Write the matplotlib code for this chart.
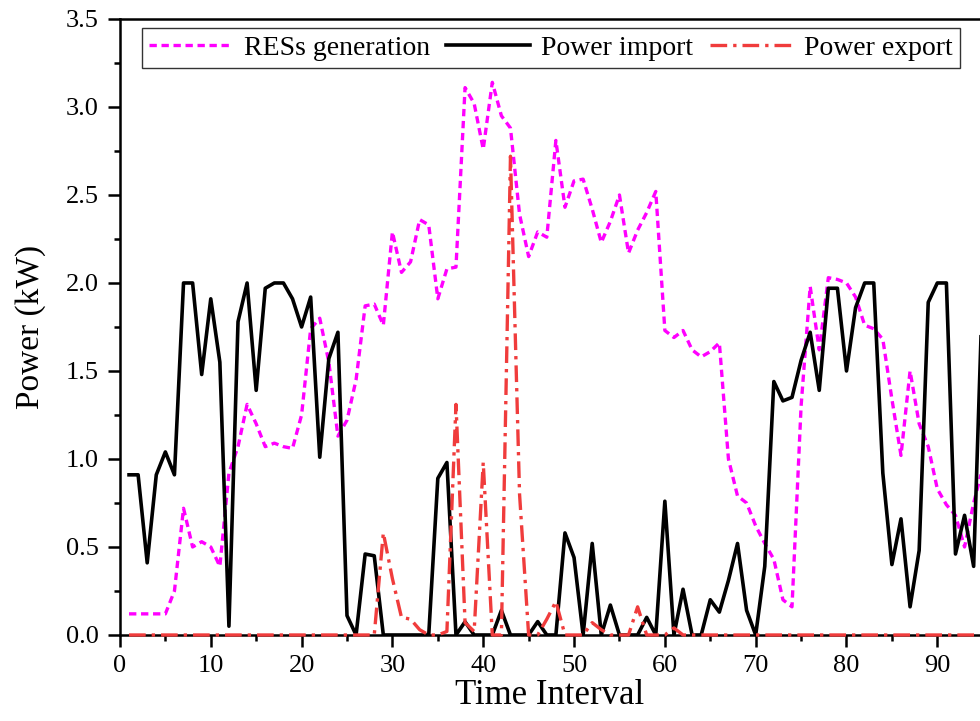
import numpy as np
import matplotlib
matplotlib.use("Agg")
import matplotlib.pyplot as plt
from matplotlib.ticker import MultipleLocator

plt.rcParams['font.family'] = ['Liberation Serif', 'DejaVu Serif']

# time intervals 1..95
t = np.arange(1, 96)

res_gen = [0.12, 0.12, 0.12, 0.12, 0.12, 0.25, 0.72, 0.50, 0.53, 0.50,
           0.39, 0.92, 1.07, 1.31, 1.20, 1.07, 1.09, 1.07, 1.06, 1.25,
           1.74, 1.80, 1.55, 1.13, 1.22, 1.45, 1.87, 1.88, 1.76, 2.29,
           2.06, 2.12, 2.36, 2.33, 1.91, 2.08, 2.09, 3.11, 3.02, 2.76,
           3.14, 2.95, 2.88, 2.39, 2.15, 2.29, 2.26, 2.81, 2.43, 2.58,
           2.59, 2.42, 2.23, 2.35, 2.50, 2.17, 2.30, 2.40, 2.52, 1.73,
           1.69, 1.73, 1.62, 1.58, 1.61, 1.66, 1.00, 0.79, 0.75, 0.62,
           0.52, 0.43, 0.20, 0.16, 1.30, 1.98, 1.62, 2.03, 2.02, 2.00,
           1.92, 1.76, 1.74, 1.68, 1.34, 1.02, 1.50, 1.20, 1.07, 0.83,
           0.74, 0.68, 0.50, 0.75, 0.95]

power_import = [0.91, 0.91, 0.41, 0.91, 1.04, 0.91, 2.00, 2.00, 1.48, 1.91,
                1.55, 0.05, 1.78, 2.00, 1.39, 1.97, 2.00, 2.00, 1.91, 1.75,
                1.92, 1.01, 1.57, 1.72, 0.11, 0.00, 0.46, 0.45, 0.00, 0.00,
                0.00, 0.00, 0.00, 0.00, 0.89, 0.98, 0.00, 0.075, 0.00, 0.00,
                0.00, 0.14, 0.00, 0.00, 0.00, 0.076, 0.00, 0.00, 0.58, 0.44,
                0.00, 0.52, 0.00, 0.17, 0.00, 0.00, 0.00, 0.10, 0.00, 0.76,
                0.00, 0.26, 0.00, 0.00, 0.20, 0.13, 0.31, 0.52, 0.14, 0.00,
                0.39, 1.44, 1.33, 1.35, 1.56, 1.72, 1.39, 1.97, 1.97, 1.50,
                1.86, 2.00, 2.00, 0.92, 0.40, 0.66, 0.16, 0.48, 1.89, 2.00,
                2.00, 0.46, 0.68, 0.39, 2.00]

power_export = [0.0] * 95
export_nonzero = {29: 0.58, 30: 0.32, 31: 0.10, 32: 0.09, 33: 0.03, 36: 0.02,
                  37: 1.31, 38: 0.07, 39: 0.02, 40: 0.98, 43: 2.72, 44: 0.80,
                  47: 0.09, 48: 0.19, 52: 0.07, 53: 0.03, 57: 0.16, 61: 0.04}
for k, v in export_nonzero.items():
    power_export[k - 1] = v

fig = plt.figure(figsize=(9.8, 7.21), dpi=100)
ax = fig.add_axes([0.1224, 0.1193, 0.8776, 0.8544])

ax.plot(t, res_gen, color='#FF00FF', lw=2.4, dashes=(2.2, 1.4),
        label='RESs generation', zorder=2)
ax.plot(t, power_import, color='black', lw=2.6, label='Power import', zorder=3)
ax.plot(t, power_export, color='#F03C3C', lw=2.4, dashes=(5, 1.8, 1, 1.8),
        label='Power export', zorder=4, clip_on=False)

ax.set_xlim(0, 94.7)
ax.set_ylim(0, 3.5)
ax.xaxis.set_major_locator(MultipleLocator(10))
ax.xaxis.set_minor_locator(MultipleLocator(5))
ax.yaxis.set_major_locator(MultipleLocator(0.5))
ax.yaxis.set_minor_locator(MultipleLocator(0.25))
ax.yaxis.set_major_formatter(plt.FormatStrFormatter('%.1f'))

ax.spines['right'].set_visible(False)
for s in ['left', 'bottom', 'top']:
    ax.spines[s].set_linewidth(1.8)
ax.tick_params(which='both', direction='out', width=1.8, labelsize=19,
               top=False, right=False)
ax.tick_params(axis='x', pad=6)
ax.tick_params(axis='y', pad=7)
ax.tick_params(which='major', length=8.5)
ax.tick_params(which='minor', length=4.5)

ax.set_xlabel('Time Interval', fontsize=25, labelpad=1)
ax.set_ylabel('Power (kW)', fontsize=24, labelpad=14)

leg = ax.legend(loc='upper left', bbox_to_anchor=(0.026, 0.985), ncol=3,
                fontsize=20, frameon=True, fancybox=False, edgecolor='black',
                handlelength=3.0, handletextpad=0.4, columnspacing=0.6,
                borderpad=0.25, borderaxespad=0)
leg.get_frame().set_linewidth(1.0)

fig.savefig('out.png', dpi=100)
